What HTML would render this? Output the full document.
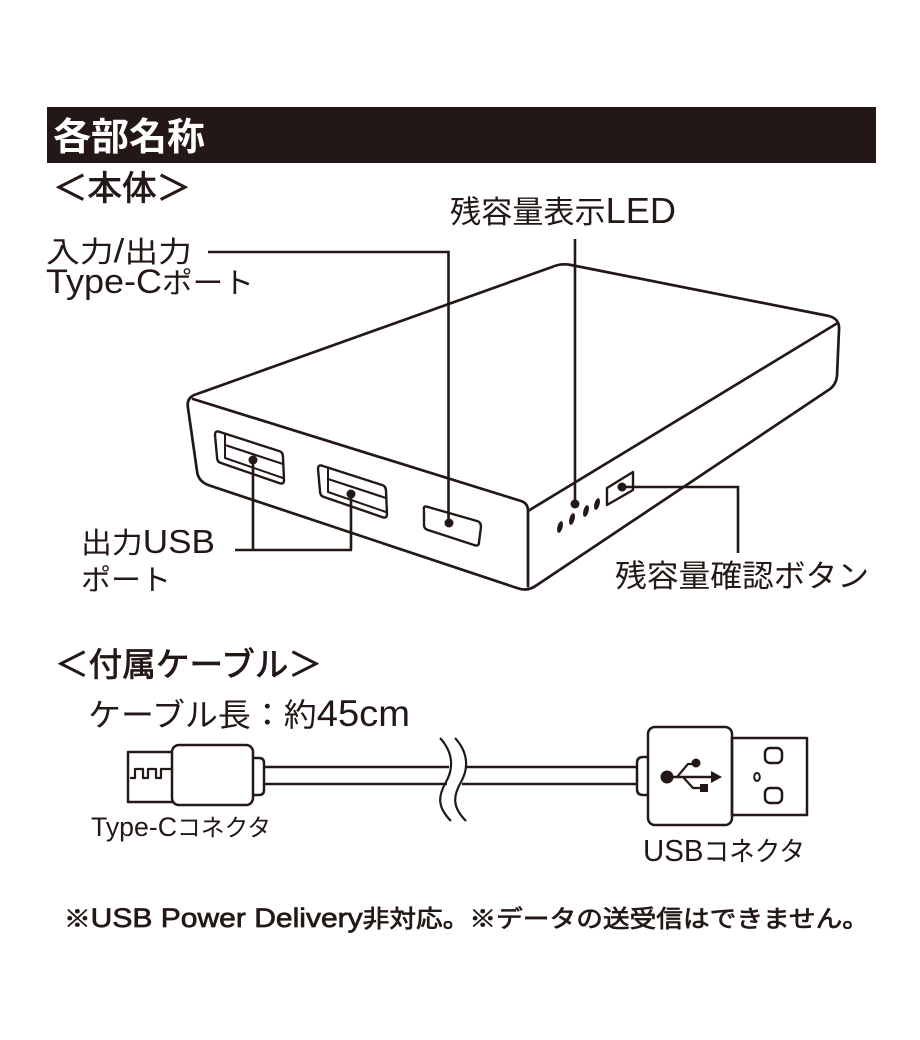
<!DOCTYPE html>
<html><head><meta charset="utf-8"><style>
html,body{margin:0;padding:0;background:#fff;}
svg{display:block;}
text{font-family:"Liberation Sans","Noto Sans CJK JP",sans-serif;fill:#231815;}
</style></head><body>
<svg width="920" height="1040" viewBox="0 0 920 1040" xmlns="http://www.w3.org/2000/svg">
<rect x="0" y="0" width="920" height="1040" fill="#fff"/>
<!-- header -->
<rect x="47" y="107" width="829" height="56" fill="#231815"/>
<text x="53" y="150" font-size="38" font-weight="bold" style="fill:#fff" textLength="152" lengthAdjust="spacingAndGlyphs">各部名称</text>

<text x="53" y="200" font-size="34" stroke="#231815" stroke-width="0.8" textLength="138" lengthAdjust="spacingAndGlyphs">＜本体＞</text>

<text x="46" y="262" font-size="29" textLength="146" lengthAdjust="spacingAndGlyphs">入力<tspan font-size="33">/</tspan>出力</text>
<text x="46" y="293" font-size="29" textLength="208" lengthAdjust="spacingAndGlyphs"><tspan font-size="34">Type-C</tspan>ポート</text>

<text x="450" y="223" font-size="31" textLength="226" lengthAdjust="spacingAndGlyphs">残容量表示<tspan font-size="36">LED</tspan></text>

<text x="81" y="553" font-size="29" textLength="134" lengthAdjust="spacingAndGlyphs">出力<tspan font-size="33">USB</tspan></text>
<text x="81" y="590" font-size="29" textLength="90" lengthAdjust="spacingAndGlyphs">ポート</text>

<text x="615" y="587" font-size="31" textLength="254" lengthAdjust="spacingAndGlyphs">残容量確認ボタン</text>

<!-- power bank -->
<g fill="none" stroke="#231815" stroke-width="2.7" stroke-linejoin="round" stroke-linecap="round">
  <path d="M188,408 Q186,397 197,394 L552,267 Q561,263 571,265 L829,316 Q840,319 839,330 L837,376 Q836,386 827,391 L537,585 Q528,592 517,588 L208,485 Q198,481 197,471 Z"/>
  <path d="M193,399 L521,501 Q528,503 528,511 L528,586"/>
  <path d="M528,511 L836,324"/>
  <!-- USB port 1 -->
  <path d="M215,435 Q215,430 220,432 L279,451 Q283,452 283,457 L284,480 Q284,485 279,483 L221,463 Q217,462 217,457 Z" stroke-width="2.4"/>
  <path d="M225,434 L225,458 L283,478" stroke-width="2"/>
  <path d="M225,445 L283,464" stroke-width="2.2"/>
  <!-- USB port 2 -->
  <path d="M318,469 Q318,464 323,466 L382,485 Q386,486 386,491 L387,514 Q387,519 382,517 L324,497 Q320,496 320,491 Z" stroke-width="2.4"/>
  <path d="M328,468 L328,492 L386,512" stroke-width="2"/>
  <path d="M328,479 L386,498" stroke-width="2.2"/>
  <!-- Type-C port -->
  <path d="M424,510 Q423,505 428,507 L477,521 Q481,522 481,527 L479,542 Q479,547 474,545 L428,530 Q424,529 424,525 Z" stroke-width="2.4"/>
  <!-- button -->
  <path d="M607,488 L633,472 L633,490 L607,505 Z" stroke-width="2.4"/>
</g>
<!-- LEDs -->
<g fill="#231815">
  <ellipse cx="560" cy="527" rx="2.6" ry="6" transform="rotate(15 560 527)"/>
  <ellipse cx="572" cy="519" rx="2.6" ry="6" transform="rotate(15 572 519)"/>
  <ellipse cx="586" cy="511" rx="2.6" ry="6" transform="rotate(15 586 511)"/>
  <ellipse cx="597" cy="504" rx="2.6" ry="6" transform="rotate(15 597 504)"/>
  <circle cx="575" cy="504" r="4.5"/>
  <circle cx="253" cy="460" r="4.5"/>
  <circle cx="351" cy="494" r="4.5"/>
  <circle cx="449" cy="523" r="4.5"/>
  <circle cx="622" cy="487" r="4.5"/>
</g>
<!-- leader lines -->
<g fill="none" stroke="#231815" stroke-width="2.6">
  <path d="M208,252 H448.5 V523"/>
  <path d="M575,239 V504"/>
  <path d="M253,460 V550 M351,494 V550 M235,550 H352"/>
  <path d="M622,487 H738 V553"/>
</g>

<!-- cable section -->
<text x="55" y="676" font-size="33" stroke="#231815" stroke-width="0.8" textLength="267" lengthAdjust="spacingAndGlyphs">＜付属ケーブル＞</text>
<text x="88" y="726" font-size="32" textLength="322" lengthAdjust="spacingAndGlyphs">ケーブル長：約<tspan font-size="37">45cm</tspan></text>

<g fill="none" stroke="#231815" stroke-width="2.5" stroke-linejoin="round">
  <!-- Type-C connector -->
  <rect x="128" y="752" width="45" height="50"/>
  <path d="M130,778 H135 V769 H143 V778 H148 V769 H156 V778 H161 V769 H172" stroke-width="2.2"/>
  <rect x="172" y="745" width="81" height="60" rx="7" fill="#fff"/>
  <path d="M253,758 H259 Q264,758 264,763 V790 Q264,795 259,795 H253"/>
  <!-- cable -->
  <path d="M264,767 H449 M264,784 H447"/>
  <path d="M465,767 H637 M462,784 H637"/>
  <!-- break -->
  <path d="M440,738 C453,752 454,768 446,782 C438,796 437,807 451,821" stroke-width="2.2"/>
  <path d="M455,738 C468,752 469,768 461,782 C453,796 452,807 466,821" stroke-width="2.2"/>
  <!-- USB connector -->
  <path d="M648,757 H643 Q637,757 637,763 V789 Q637,795 643,795 H648"/>
  <rect x="648" y="727" width="84" height="98" rx="7"/>
  <rect x="732" y="738" width="75" height="77"/>
  <rect x="765" y="748" width="17" height="15" rx="5"/>
  <rect x="765" y="788" width="17" height="15" rx="5"/>
  <ellipse cx="757" cy="777" rx="2.8" ry="4" stroke-width="2"/>
  <!-- usb symbol -->
  <path d="M667,777 H714" stroke-width="2.4"/>
  <path d="M677,777 L688,764 L693,764" stroke-width="2.2"/>
  <path d="M683,777 L693,788 L701,788" stroke-width="2.2"/>
</g>
<g fill="#231815">
  <circle cx="667" cy="777" r="6.5"/>
  <polygon points="711,771 722,777 711,783"/>
  <circle cx="696" cy="763" r="4.5"/>
  <rect x="700" y="784" width="8" height="8"/>
</g>
<text x="91" y="836" font-size="24" textLength="180" lengthAdjust="spacingAndGlyphs"><tspan font-size="27">Type-C</tspan>コネクタ</text>
<text x="643" y="861" font-size="27" textLength="162" lengthAdjust="spacingAndGlyphs"><tspan font-size="31">USB</tspan>コネクタ</text>

<!-- note -->
<text x="64" y="927" font-size="24" stroke="#231815" stroke-width="0.7" textLength="805" lengthAdjust="spacingAndGlyphs">※<tspan font-size="27">USB Power Delivery</tspan>非対応。※データの送受信はできません。</text>
</svg>
</body></html>
